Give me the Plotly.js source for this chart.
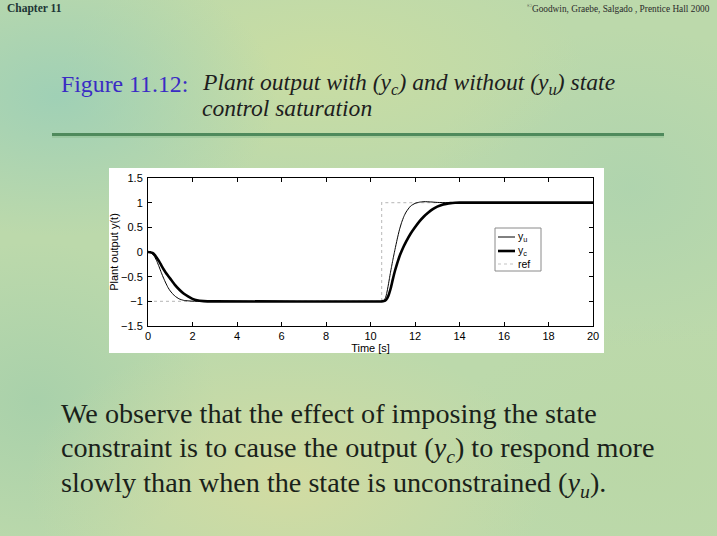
<!DOCTYPE html>
<html>
<head>
<meta charset="utf-8">
<script src="https://cdn.plot.ly/plotly-3.0.1.min.js"></script>
<style>
html,body{margin:0;padding:0;}
body{
  width:717px;height:536px;overflow:hidden;
  background:
    radial-gradient(ellipse 220px 140px at 8% 18%, rgba(150,205,185,0.75), rgba(150,205,185,0) 100%),
    radial-gradient(ellipse 260px 120px at 45% 12%, rgba(205,222,160,0.8), rgba(205,222,160,0) 100%),
    radial-gradient(ellipse 200px 160px at 88% 35%, rgba(170,210,175,0.7), rgba(170,210,175,0) 100%),
    radial-gradient(ellipse 260px 150px at 40% 90%, rgba(215,220,160,0.8), rgba(215,220,160,0) 100%),
    radial-gradient(ellipse 200px 140px at 90% 85%, rgba(185,215,165,0.7), rgba(185,215,165,0) 100%),
    radial-gradient(ellipse 180px 160px at 5% 75%, rgba(160,205,170,0.7), rgba(160,205,170,0) 100%),
    #bcd9ab;
}
#chart{width:717px;height:536px;}
</style>
</head>
<body>
<div id="chart"></div>
<script>
// ---- data ----
var tU = [0,0.1,0.2,0.3,0.4,0.5,0.6,0.7,0.8,0.9,1.0,1.2,1.4,1.6,1.8,2.0,2.5,10.5,10.55,10.6,10.65,10.7,10.75,10.8,10.85,10.9,10.95,11.0,11.05,11.1,11.2,11.3,11.4,11.5,11.6,11.8,12.0,12.2,12.4,12.7,13.0,13.5,20];
var yU = [0,-0.01,-0.04,-0.10,-0.19,-0.30,-0.42,-0.53,-0.63,-0.72,-0.79,-0.89,-0.95,-0.98,-0.99,-0.997,-1.0,-1.0,-0.998,-0.985,-0.95,-0.89,-0.79,-0.67,-0.54,-0.41,-0.29,-0.17,-0.06,0.05,0.26,0.45,0.60,0.72,0.81,0.93,0.985,1.01,1.02,1.015,1.005,1.0,1.0];

var tC = [0,0.1,0.2,0.3,0.4,0.5,0.6,0.7,0.8,0.9,1.0,1.2,1.4,1.6,1.8,2.0,2.2,2.5,3.0,10.5,10.6,10.7,10.8,10.9,11.0,11.1,11.2,11.3,11.4,11.5,11.6,11.8,12.0,12.2,12.4,12.6,12.8,13.0,13.2,13.4,13.6,13.8,14.0,20];
var yC = [0,-0.005,-0.02,-0.06,-0.12,-0.19,-0.27,-0.35,-0.42,-0.48,-0.54,-0.66,-0.76,-0.84,-0.90,-0.95,-0.98,-0.995,-1.0,-1.0,-0.995,-0.97,-0.89,-0.75,-0.56,-0.38,-0.23,-0.09,0.02,0.12,0.21,0.37,0.50,0.62,0.72,0.80,0.87,0.92,0.955,0.975,0.99,0.997,1.0,1.0];

var tRef = [0,10.5,10.5,20];
var yRef = [-1,-1,1,1];

var seriesNames = ['y<sub>u</sub>', 'y<sub>c</sub>', 'ref'];
var xTicks = [0,2,4,6,8,10,12,14,16,18,20];
var yTicks = [-1.5,-1,-0.5,0,0.5,1,1.5];
var yTickText = ['\u22121.5','\u22121','\u22120.5','0','0.5','1','1.5'];

// ---- layout helpers (pixel -> paper) ----
var W = 717, H = 536;
function px(x){return x/W;}
function py(y){return 1 - y/H;}

var styleU = {color:'#000', width:1};
var styleC = {color:'#000', width:2.6};
var styleR = {color:'#c4c4c4', width:1.2, dash:'dot'};

var traces = [
  {x:tRef, y:yRef, name:seriesNames[2], mode:'lines', line:styleR},
  {x:tU, y:yU, name:seriesNames[0], mode:'lines',
   line:Object.assign({shape:'spline', smoothing:0.6}, styleU)},
  {x:tC, y:yC, name:seriesNames[1], mode:'lines',
   line:Object.assign({shape:'spline', smoothing:0.6}, styleC)}
];

var sans = 'Liberation Sans, Arial, sans-serif';
var serif = 'Liberation Serif, Times New Roman, serif';
var axFont = {family:sans, size:11, color:'#000'};

// compact MATLAB-style legend box (position/styling only)
var legBox = {x0:495, x1:541, y0:228, y1:271};
var legRows = [237, 251, 264];
var legStyles = [styleU, styleC, styleR];
var legShapes = [
  {type:'rect', xref:'paper', yref:'paper', x0:px(legBox.x0), x1:px(legBox.x1), y0:py(legBox.y1), y1:py(legBox.y0),
   fillcolor:'#ffffff', line:{color:'#8a8a8a', width:1}}
];
var legAnn = [];
legRows.forEach(function(r, i){
  legShapes.push({type:'line', xref:'paper', yref:'paper', x0:px(498), x1:px(515), y0:py(r), y1:py(r),
    line:legStyles[i]});
  legAnn.push({xref:'paper', yref:'paper', x:px(517), y:py(r), xanchor:'left', yanchor:'middle', showarrow:false,
    text:seriesNames[i], font:{family:sans, size:10.5, color:'#000'}, borderpad:0});
});

var bodySize = 28.2;
var layout = {
  width:W, height:H,
  margin:{l:0,r:0,t:0,b:0},
  paper_bgcolor:'rgba(0,0,0,0)',
  plot_bgcolor:'#ffffff',
  showlegend:false,
  xaxis:{domain:[px(148), px(593)], range:[0,20], tickvals:xTicks,
    ticks:'inside', ticklen:4, tickcolor:'#000', showline:true, linecolor:'#000', linewidth:1,
    mirror:'ticks', showgrid:false, zeroline:false, tickfont:axFont, ticklabelstandoff:0,
    title:{text:'Time [s]', font:{family:sans, size:11, color:'#000'}, standoff:0},
    anchor:'y', automargin:false},
  yaxis:{domain:[py(326), py(178)], range:[-1.5,1.5], tickvals:yTicks, ticktext:yTickText,
    ticks:'inside', ticklen:4, tickcolor:'#000', showline:true, linecolor:'#000', linewidth:1,
    mirror:'ticks', showgrid:false, zeroline:false, tickfont:axFont, ticklabelstandoff:2,
    title:{text:'Plant output y(t)', font:{family:sans, size:11, color:'#000'}, standoff:0},
    anchor:'x', automargin:false},
  shapes:[
    {type:'rect', xref:'paper', yref:'paper', x0:px(109), x1:px(604), y0:py(353), y1:py(168),
     fillcolor:'#ffffff', line:{width:0}, layer:'below'},
    {type:'line', xref:'paper', yref:'paper', x0:px(52), x1:px(664), y0:py(134.5), y1:py(134.5),
     line:{color:'#4f8a5c', width:3}},
    {type:'line', xref:'paper', yref:'paper', x0:px(52), x1:px(664), y0:py(137), y1:py(137),
     line:{color:'#8dbf8f', width:1}}
  ].concat(legShapes),
  annotations:[
    {xref:'paper', yref:'paper', x:px(5), y:py(9), xanchor:'left', yanchor:'middle', showarrow:false,
     text:'<b>Chapter 11</b>', font:{family:serif, size:11.5, color:'#1d3535'}},
    {xref:'paper', yref:'paper', x:px(712), y:py(8), xanchor:'right', yanchor:'middle', showarrow:false,
     text:'<sup>\u00a9</sup>Goodwin, Graebe, Salgado , Prentice Hall 2000', font:{family:serif, size:9.3, color:'#2a2a2a'}},
    {xref:'paper', yref:'paper', x:px(59), y:py(84), xanchor:'left', yanchor:'middle', showarrow:false,
     text:'Figure 11.12:', font:{family:serif, size:23.8, color:'#3a2bc4'}},
    {xref:'paper', yref:'paper', x:px(200), y:py(84), xanchor:'left', yanchor:'middle', showarrow:false,
     text:'<i>Plant output with (y<sub>c</sub>) and without (y<sub>u</sub>) state</i>', font:{family:serif, size:23.6, color:'#1e1e1e'}},
    {xref:'paper', yref:'paper', x:px(200), y:py(108), xanchor:'left', yanchor:'middle', showarrow:false,
     text:'<i>control saturation</i>', font:{family:serif, size:23.6, color:'#1e1e1e'}},
    {xref:'paper', yref:'paper', x:px(59), y:py(413), xanchor:'left', yanchor:'middle', showarrow:false,
     text:'We observe that the effect of imposing the state', font:{family:serif, size:bodySize, color:'#1a221a'}},
    {xref:'paper', yref:'paper', x:px(59), y:py(449), xanchor:'left', yanchor:'middle', showarrow:false,
     text:'constraint is to cause the output (<i>y<sub>c</sub></i>) to respond more', font:{family:serif, size:bodySize, color:'#1a221a'}},
    {xref:'paper', yref:'paper', x:px(59), y:py(484), xanchor:'left', yanchor:'middle', showarrow:false,
     text:'slowly than when the state is unconstrained (<i>y<sub>u</sub></i>).', font:{family:serif, size:bodySize, color:'#1a221a'}}
  ].concat(legAnn)
};

Plotly.newPlot('chart', traces, layout, {staticPlot:true, displayModeBar:false});
</script>
</body>
</html>
